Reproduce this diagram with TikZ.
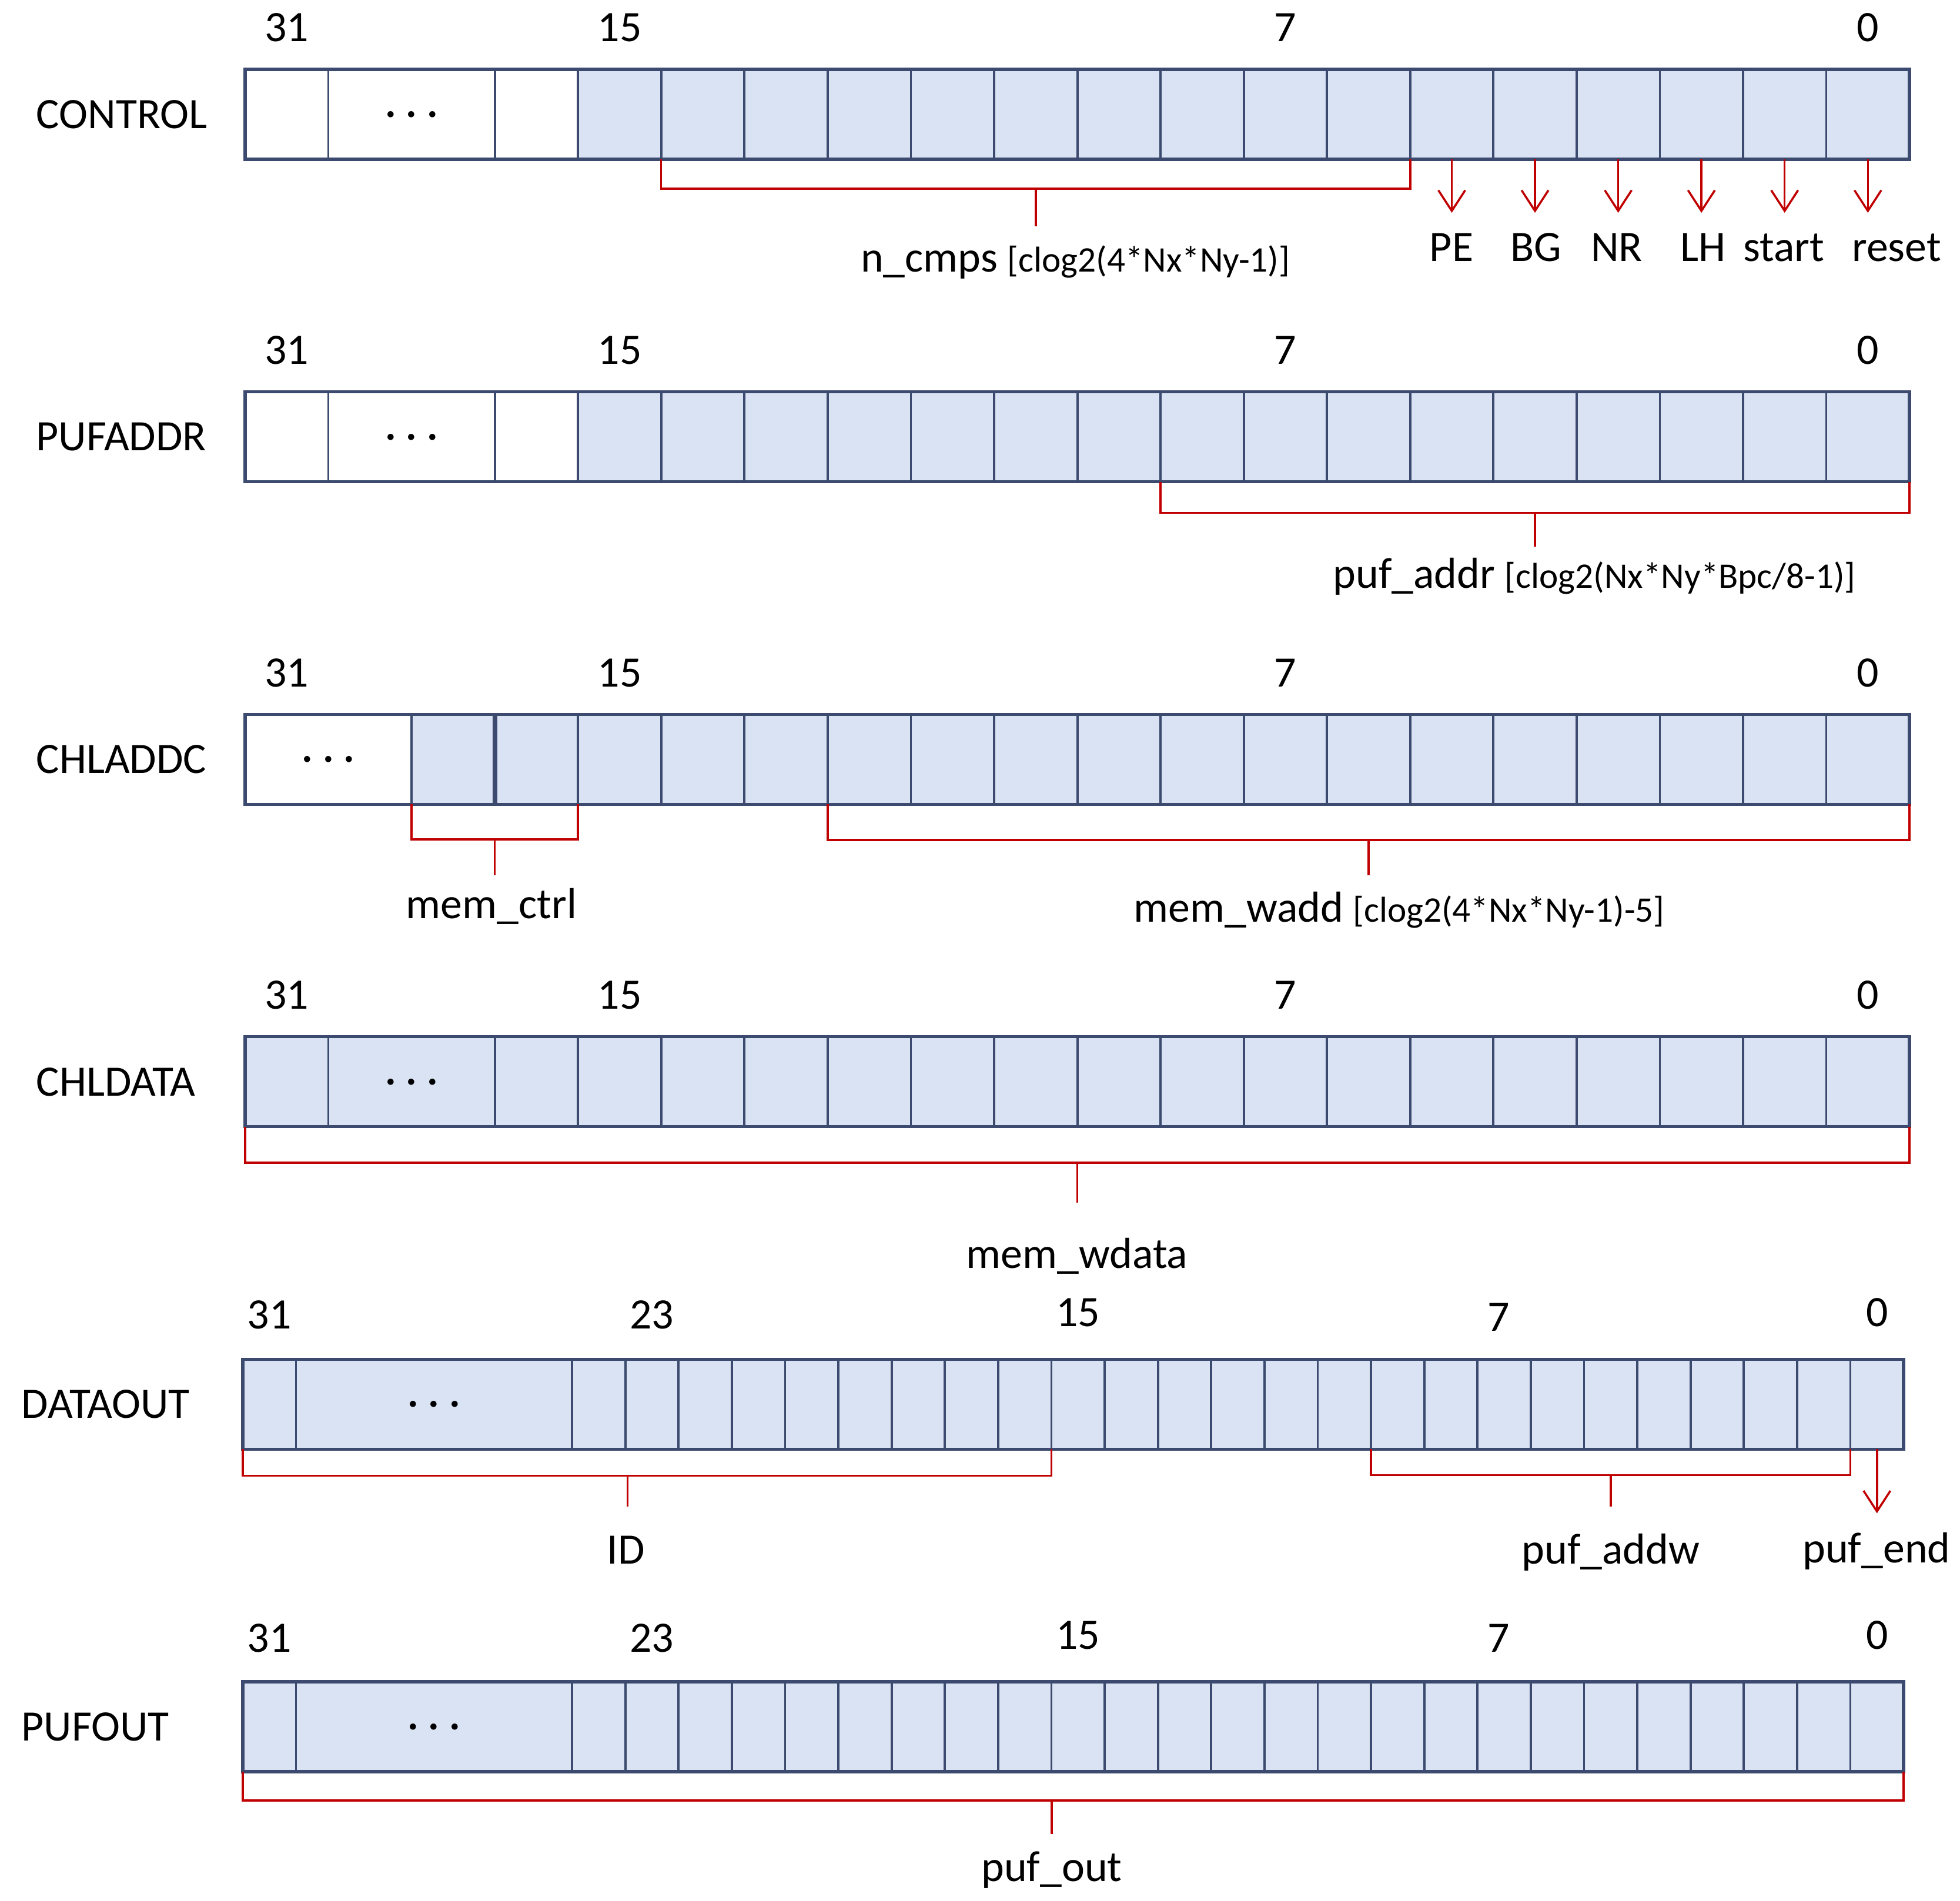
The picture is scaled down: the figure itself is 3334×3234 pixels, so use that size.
\documentclass[tikz,border=0pt]{standalone}
\usepackage{fontspec}
\setmainfont{Carlito}
\usetikzlibrary{positioning}
\usetikzlibrary{calc}
\usetikzlibrary{arrows.meta}
\definecolor{cellblue}{HTML}{DAE3F3}
\definecolor{boxline}{HTML}{3B4A6E}
\definecolor{sigred}{HTML}{C00000}
\newcommand{\regsz}{\fontsize{21}{25}\selectfont}
\newcommand{\exprsz}{\fontsize{17.4}{21}\selectfont}

\begin{document}
\begin{tikzpicture}[x=0.01cm,y=-0.01cm,
	bitbox/.style={draw=boxline,fill=cellblue,line width=1.1pt,minimum height=1.53cm,inner sep=0pt,outer sep=0pt,font=\regsz},
	cellA/.style={bitbox,minimum width=1.4155cm},
	cellB/.style={bitbox,minimum width=0.906cm},
	unused/.style={fill=white},
	dotstext/.style={anchor=base,yshift=-0.21cm,inner sep=0pt,font=\regsz},
	rowframe/.style={draw=boxline,line width=1.5pt},
	regname/.style={anchor=west,inner sep=0pt,font=\regsz},
	bitno/.style={anchor=base,font=\regsz},
	fieldname/.style={anchor=base,font=\regsz},
	brk/.style={draw=sigred,line width=1pt},
	sig/.style={brk,-{Straight Barb[length=10pt,width=13pt]}}]
	\useasboundingbox (0,0) rectangle (3334,3234);

	% CONTROL
	\node[regname] (ctlname) at (61,194.5) {CONTROL};
	\node[cellA,unused] (ctl31) at (487.8,194.5) {};
	\node[cellA,unused,minimum width=2.831cm] (ctldots) at (700.1,194.5) {};
	\node[dotstext] (ctldotstxt) at (ctldots) {· · ·};
	\node[cellA,unused] (ctl16) at ({3248-16.5*141.55},194.5) {};
	\foreach \b in {0,...,15} \node[cellA] (ctl\b) at ({3248-(\b+0.5)*141.55},194.5) {};
	\draw[rowframe] (ctl31.north west) rectangle (ctl0.south east);
	\foreach \n/\x in {31/487.8,15/1054,7/2186.4,0/3177.2} \node[bitno] (ctlno\n) at (\x,71) {\n};
	\coordinate (ncmpsM) at ($(ctl14.south west)!0.5!(ctl6.south east)+(0,50)$);
	\draw[brk] (ctl14.south west) |- (ncmpsM) -| (ctl6.south east);
	\draw[brk] (ncmpsM) -- ++(0,64) coordinate (ncmpsT);
	\node[fieldname] (ncmps) at (1829,463) {n\_cmps {\exprsz [clog2(4*Nx*Ny-1)]}};
	\foreach \b/\s/\x in {5/PE/2469,4/BG/2613,3/NR/2750,2/LH/2897,1/start/3034,0/reset/3226} {
		\draw[sig] (ctl\b.south) -- ++(0,91) coordinate (ctltip\b);
		\node[fieldname] (sig\s) at (\x,445) {\s};
	}

	% PUFADDR
	\node[regname] (paname) at (61,743.1) {PUFADDR};
	\node[cellA,unused] (pa31) at (487.8,743.1) {};
	\node[cellA,unused,minimum width=2.831cm] (padots) at (700.1,743.1) {};
	\node[dotstext] (padotstxt) at (padots) {· · ·};
	\node[cellA,unused] (pa16) at ({3248-16.5*141.55},743.1) {};
	\foreach \b in {0,...,15} \node[cellA] (pa\b) at ({3248-(\b+0.5)*141.55},743.1) {};
	\draw[rowframe] (pa31.north west) rectangle (pa0.south east);
	\foreach \n/\x in {31/487.8,15/1054,7/2186.4,0/3177.2} \node[bitno] (pano\n) at (\x,619.6) {\n};
	\coordinate (pufaddrM) at ($(pa8.south west)!0.5!(pa0.south east)+(0,53)$);
	\draw[brk] (pa8.south west) |- (pufaddrM) -| (pa0.south east);
	\draw[brk] (pufaddrM) -- ++(0,57) coordinate (pufaddrT);
	\node[fieldname] (pufaddr) at (2712,1000) {puf\_addr {\exprsz [clog2(Nx*Ny*Bpc/8-1)]}};

	% CHLADDC
	\node[regname] (chname) at (61,1291.7) {CHLADDC};
	\node[cellA,unused,minimum width=2.831cm] (chdots) at (558.5,1291.7) {};
	\node[dotstext] (chdotstxt) at (chdots) {· · ·};
	\foreach \b in {0,...,17} \node[cellA] (ch\b) at ({3248-(\b+0.5)*141.55},1291.7) {};
	\draw[boxline,line width=2.2pt] (ch17.north east) -- (ch17.south east);
	\draw[rowframe] (chdots.north west) rectangle (ch0.south east);
	\foreach \n/\x in {31/487.8,15/1054,7/2186.4,0/3177.2} \node[bitno] (chno\n) at (\x,1168.2) {\n};
	\coordinate (memctrlM) at ($(ch17.south west)!0.5!(ch16.south east)+(0,60)$);
	\draw[brk] (ch17.south west) |- (memctrlM) -| (ch16.south east);
	\draw[brk] (memctrlM) -- ++(0,61) coordinate (memctrlT);
	\node[fieldname] (memctrl) at (836,1562) {mem\_ctrl};
	\coordinate (memwaddM) at ($(ch12.south west)!0.5!(ch0.south east)+(0,61)$);
	\draw[brk] (ch12.south west) |- (memwaddM) -| (ch0.south east);
	\draw[brk] (memwaddM) -- ++(0,60) coordinate (memwaddT);
	\node[fieldname] (memwadd) at (2380,1568) {mem\_wadd {\exprsz [clog2(4*Nx*Ny-1)-5]}};

	% CHLDATA
	\node[regname] (cdname) at (61,1840.3) {CHLDATA};
	\node[cellA] (cd31) at (487.8,1840.3) {};
	\node[cellA,minimum width=2.831cm] (cddots) at (700.1,1840.3) {};
	\node[dotstext] (cddotstxt) at (cddots) {· · ·};
	\foreach \b in {0,...,16} \node[cellA] (cd\b) at ({3248-(\b+0.5)*141.55},1840.3) {};
	\draw[rowframe] (cd31.north west) rectangle (cd0.south east);
	\foreach \n/\x in {31/487.8,15/1054,7/2186.4,0/3177.2} \node[bitno] (cdno\n) at (\x,1716.8) {\n};
	\coordinate (memwdataM) at ($(cd31.south west)!0.5!(cd0.south east)+(0,61)$);
	\draw[brk] (cd31.south west) |- (memwdataM) -| (cd0.south east);
	\draw[brk] (memwdataM) -- ++(0,68) coordinate (memwdataT);
	\node[fieldname] (memwdata) at (1832,2157) {mem\_wdata};

	% DATAOUT
	\node[regname] (doname) at (36,2388.9) {DATAOUT};
	\node[cellB] (do31) at (458.3,2388.9) {};
	\node[cellB,minimum width=4.694cm] (dodots) at (738.3,2388.9) {};
	\node[dotstext] (dodotstxt) at (dodots) {· · ·};
	\foreach \b in {0,...,24} \node[cellB] (do\b) at ({3238-(\b+0.5)*90.6},2388.9) {};
	\draw[rowframe] (do31.north west) rectangle (do0.south east);
	\foreach \n/\x/\y in {31/458.3/2260,23/1108.9/2260,15/1833.7/2256,7/2549/2264,0/3192.7/2256} \node[bitno] (dono\n) at (\x,\y) {\n};
	\coordinate (idM) at ($(do31.south west)!0.476!(do16.south east)+(0,45)$);
	\draw[brk] (do31.south west) |- (idM) -| (do16.south east);
	\draw[brk] (idM) -- ++(0,53) coordinate (idT);
	\node[fieldname] (id) at (1065,2660) {ID};
	\coordinate (pufaddwM) at ($(do9.south west)!0.5!(do1.south east)+(0,44)$);
	\draw[brk] (do9.south west) |- (pufaddwM) -| (do1.south east);
	\draw[brk] (pufaddwM) -- ++(0,54) coordinate (pufaddwT);
	\node[fieldname] (pufaddw) at (2740,2660) {puf\_addw};
	\draw[sig] (do0.south) -- ++(0,109) coordinate (dotip0);
	\node[fieldname] (pufend) at (3192,2658) {puf\_end};

	% PUFOUT
	\node[regname] (poname) at (36,2937.5) {PUFOUT};
	\node[cellB] (po31) at (458.3,2937.5) {};
	\node[cellB,minimum width=4.694cm] (podots) at (738.3,2937.5) {};
	\node[dotstext] (podotstxt) at (podots) {· · ·};
	\foreach \b in {0,...,24} \node[cellB] (po\b) at ({3238-(\b+0.5)*90.6},2937.5) {};
	\draw[rowframe] (po31.north west) rectangle (po0.south east);
	\foreach \n/\x/\y in {31/458.3/2810,23/1108.9/2810,15/1833.7/2805,7/2549/2810,0/3192.7/2805} \node[bitno] (pono\n) at (\x,\y) {\n};
	\coordinate (pufoutM) at ($(po31.south west)!0.487!(po0.south east)+(0,49)$);
	\draw[brk] (po31.south west) |- (pufoutM) -| (po0.south east);
	\draw[brk] (pufoutM) -- ++(0,57) coordinate (pufoutT);
	\node[fieldname] (pufout) at (1789,3200) {puf\_out};
\end{tikzpicture}
\end{document}
